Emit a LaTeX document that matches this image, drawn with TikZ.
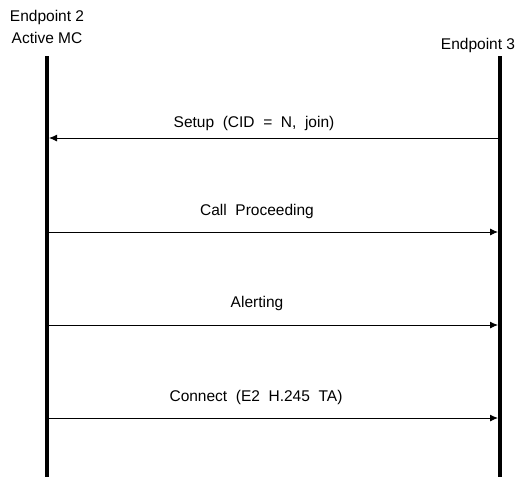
\documentclass[tikz,border=0pt]{standalone}
\usepackage{fontspec}
\setmainfont{Liberation Sans}
\usetikzlibrary{arrows.meta,positioning}

\begin{document}
\begin{tikzpicture}[x=1pt,y=-1pt,
    lifeline/.style={line width=4.5pt},
    msg/.style={line width=0.9pt,-{Latex[length=8pt,width=7pt]}},
    msglabel/.style={font=\fontsize{15.5}{18}\selectfont},
    party/.style={font=\fontsize{15.5}{22.5}\selectfont,align=center,inner sep=0pt}
  ]

    \useasboundingbox (0,0) rectangle (527,477);

    % parties
    \node[party] (e2) at (47,27) {Endpoint\ 2\\Active\ MC};
    \node[party] (e3) at (478,45) {Endpoint\ 3};

    % lifelines
    \coordinate (e2top) at (47,56);
    \coordinate (e2bot) at (47,477);
    \coordinate (e3top) at (500,56);
    \coordinate (e3bot) at (500,477);
    \draw[lifeline] (e2top) -- (e2bot);
    \draw[lifeline] (e3top) -- (e3bot);

    % messages
    \foreach \name/\y/\lx/\ly/\txt in {setup/138/254/123/{Setup\ \ (CID\ \ =\ \ N,\ \ join)},
                             proc/232/257/211/{Call\ \ Proceeding},
                             alert/325/257/303/{Alerting},
                             conn/418/256/397/{Connect\ \ (E2\ \ H.245\ \ TA)}} {
        \coordinate (\name L) at (49,\y);
        \coordinate (\name R) at (498,\y);
        \node[msglabel] (\name) at (\lx,\ly) {\txt};
    }

    \draw[msg] (setupR) -- (setupL);
    \draw[msg] (procL) -- (procR);
    \draw[msg] (alertL) -- (alertR);
    \draw[msg] (connL) -- (connR);

\end{tikzpicture}
\end{document}
